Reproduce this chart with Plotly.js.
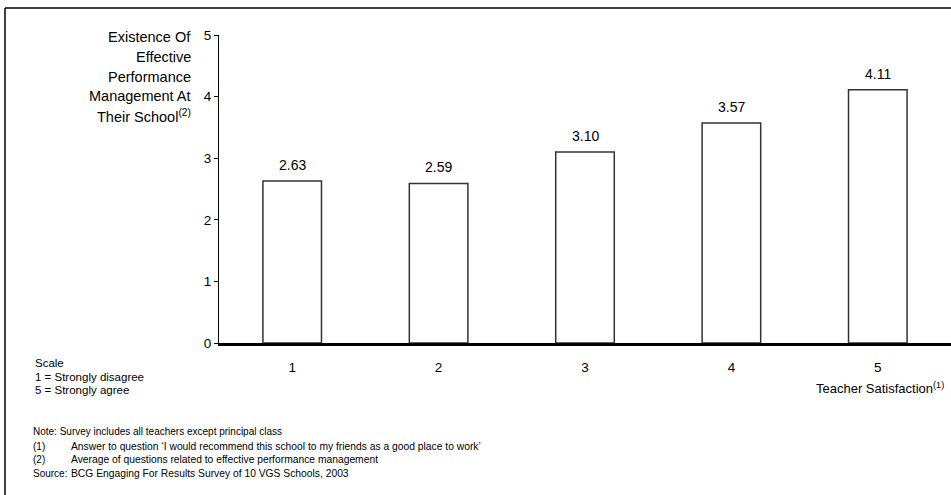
<!DOCTYPE html>
<html>
<head>
<meta charset="utf-8">
<script src="https://cdn.plot.ly/plotly-3.0.1.min.js"></script>
<style>html,body{margin:0;padding:0;background:#fff}#chart{width:951px;height:495px}</style>
</head>
<body>
<div id="chart"></div>
<script>
const categories = ['1', '2', '3', '4', '5'];
const values = [2.63, 2.59, 3.10, 3.57, 4.11];
const valueLabels = values.map(v => v.toFixed(2));
const yTicks = [0, 1, 2, 3, 4, 5];
const yTitleLines = ['Existence Of', 'Effective', 'Performance', 'Management At', 'Their School<sup>(2)</sup>'];
const xTitle = 'Teacher Satisfaction<sup>(1)</sup>';
const scaleLines = ['Scale', '1 = Strongly disagree', '5 = Strongly agree'];
const noteLine = 'Note: Survey includes all teachers except principal class';
const footKeys = ['(1)', '(2)', 'Source:'];
const footTexts = [
  'Answer to question \u2018I would recommend this school to my friends as a good place to work\u2019',
  'Average of questions related to effective performance management',
  'BCG Engaging For Results Survey of 10 VGS Schools, 2003'
];

const W = 951, H = 495;
const M = {l: 219, r: 0, t: 35, b: 152};
const pw = W - M.l - M.r, ph = H - M.t - M.b;
const px = x => (x - M.l) / pw;
const py = y => 1 - (y - M.t) / ph;
const FONT = 'Liberation Sans, Arial, sans-serif';

const annotations = [];
// value labels (category index positions)
categories.forEach((c, i) => {
  annotations.push({x: i, y: values[i], xref: 'x', yref: 'y', text: valueLabels[i],
    showarrow: false, yanchor: 'bottom', yshift: 6, font: {size: 14, color: '#000', family: FONT}});
});
// y title lines
yTitleLines.forEach((t, i) => {
  annotations.push({x: px(193), y: py(37 + i * 19.8), xref: 'paper', yref: 'paper', xanchor: 'right', yanchor: 'middle',
    align: 'right', showarrow: false, text: t, font: {size: 14.5, color: '#000', family: FONT}});
});
// x title
annotations.push({x: px(946), y: py(388), xref: 'paper', yref: 'paper', xanchor: 'right', yanchor: 'middle',
  showarrow: false, text: xTitle, font: {size: 13, color: '#000', family: FONT}});
// scale
scaleLines.forEach((t, i) => {
  annotations.push({x: px(33), y: py(363 + i * 13.6), xref: 'paper', yref: 'paper', xanchor: 'left', yanchor: 'middle',
    showarrow: false, text: t, font: {size: 11.5, color: '#000', family: FONT}});
});
// note
annotations.push({x: px(31), y: py(432), xref: 'paper', yref: 'paper', xanchor: 'left', yanchor: 'middle',
  showarrow: false, text: noteLine, font: {size: 10, color: '#000', family: FONT}});
footKeys.forEach((k, i) => {
  const yy = 446 + i * 13.7;
  annotations.push({x: px(31), y: py(yy), xref: 'paper', yref: 'paper', xanchor: 'left', yanchor: 'middle',
    showarrow: false, text: k, font: {size: 10, color: '#000', family: FONT}});
  annotations.push({x: px(69), y: py(yy), xref: 'paper', yref: 'paper', xanchor: 'left', yanchor: 'middle',
    showarrow: false, text: footTexts[i], font: {size: 10.3, color: '#000', family: FONT}});
});

const shapes = [
  {type: 'line', xref: 'paper', yref: 'paper', x0: px(5), x1: px(951), y0: py(8), y1: py(8), line: {color: '#000', width: 1.5}},
  {type: 'line', xref: 'paper', yref: 'paper', x0: px(5), x1: px(5), y0: py(8), y1: py(495), line: {color: '#000', width: 1.5}}
];

const trace = {
  type: 'bar', x: categories, y: values, width: 0.4,
  marker: {color: '#fff', line: {color: '#333', width: 1.5}},
  hoverinfo: 'skip'
};

const layout = {
  width: W, height: H, margin: M, showlegend: false,
  paper_bgcolor: '#fff', plot_bgcolor: '#fff',
  font: {family: FONT, size: 13, color: '#000'},
  xaxis: {type: 'category', range: [-0.5, 4.5], showline: true, linecolor: '#000', linewidth: 2.5,
    ticks: '', showgrid: false, zeroline: false, ticklabelstandoff: 10, tickfont: {size: 13.5}},
  yaxis: {range: [0, 5], tickvals: yTicks, showline: true, linecolor: '#000', linewidth: 1,
    ticks: 'outside', ticklen: 4, tickcolor: '#000', tickwidth: 1, showgrid: false, zeroline: false,
    tickfont: {size: 13.5}},
  annotations: annotations, shapes: shapes
};

Plotly.newPlot('chart', [trace], layout, {displayModeBar: false, staticPlot: true});
</script>
</body>
</html>
